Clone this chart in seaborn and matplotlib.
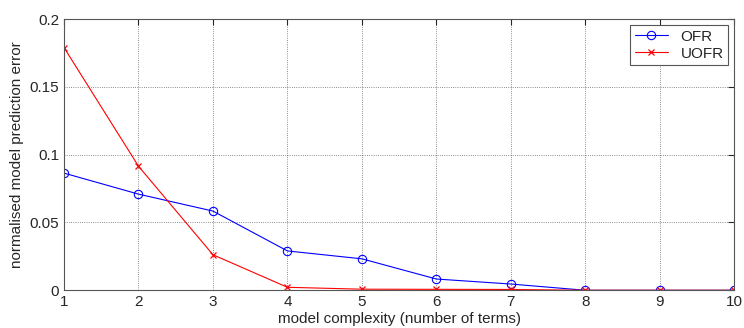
import numpy as np
import pandas as pd
import matplotlib
matplotlib.use("Agg")
import matplotlib.pyplot as plt
import seaborn as sns

# values
terms = [1, 2, 3, 4, 5, 6, 7, 8, 9, 10]
ofr = [0.0864, 0.0709, 0.0584, 0.0290, 0.0232, 0.0083, 0.0046, 0.0, 0.0, 0.0]
uofr = [0.1790, 0.0915, 0.0262, 0.0022, 0.0008, 0.0007, 0.0006, 0.0, 0.0, 0.0]

df = pd.DataFrame({"terms": terms, "OFR": ofr, "UOFR": uofr})

sns.set_style("white")
plt.rcParams["font.family"] = ["Liberation Sans", "DejaVu Sans"]

fig, ax = plt.subplots(figsize=(7.44, 3.28), dpi=100)

sns.lineplot(x="terms", y="OFR", data=df, ax=ax, color="blue", lw=0.8,
             marker="o", markersize=6, markerfacecolor="none",
             markeredgecolor="blue", markeredgewidth=0.8, label="OFR")
sns.lineplot(x="terms", y="UOFR", data=df, ax=ax, color="red", lw=0.8,
             marker="x", markersize=4, markeredgecolor="red",
             markeredgewidth=0.9, label="UOFR")

ax.set_xlim(1, 10)
ax.set_ylim(0, 0.2)
ax.set_xticks(terms)
ax.set_yticks([0, 0.05, 0.1, 0.15, 0.2])
ax.set_yticklabels(["0", "0.05", "0.1", "0.15", "0.2"])
ax.grid(True, linestyle=":", color="black", lw=0.6, alpha=0.6)
ax.tick_params(direction="in", length=4, labelsize=11, top=True, right=True)
for s in ax.spines.values():
    s.set_color("#555555")
    s.set_linewidth(0.8)

ax.set_xlabel("model complexity (number of terms)", fontsize=11, labelpad=2)
ax.set_ylabel("normalised model prediction error", fontsize=11)

leg = ax.legend(loc="upper right", fontsize=11, fancybox=False, framealpha=1,
                edgecolor="#555555", handlelength=2.2, borderpad=0.3,
                labelspacing=0.2, borderaxespad=0.4)
leg.get_frame().set_linewidth(0.8)

plt.subplots_adjust(left=0.086, right=0.987, top=0.942, bottom=0.115)
plt.savefig("out.png", dpi=100)
